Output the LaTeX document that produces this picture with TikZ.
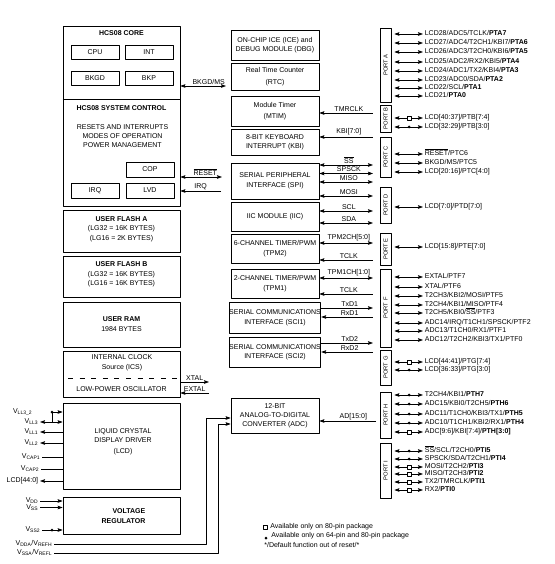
\documentclass[tikz,border=0pt]{standalone}
\usepackage{fontspec}
\setmainfont{Liberation Sans}
\usetikzlibrary{arrows.meta}
\newcommand{\ovl}[1]{$\overline{\mbox{#1}}$}
\begin{document}
\begin{tikzpicture}[x=1pt,y=-1pt,line join=round,line width=.7pt,>={Stealth[length=5pt,width=3.6pt,inset=.8pt]}]
	\tikzset{every node/.style={font=\fontsize{7}{9}\selectfont,inner sep=0pt},
		ttl/.style={font=\fontsize{7}{9}\selectfont\bfseries},
		lbox/.style={draw,minimum width=117},
		sub/.style={draw,minimum width=48,minimum height=14},
		mod/.style={draw,align=center,minimum width=88},
		port/.style={draw,minimum width=11,font=\fontsize{5.8}{7}\selectfont},
		pin/.style={anchor=west,inner sep=1.5pt,text height=5pt,text depth=1.5pt},
		vlab/.style={anchor=east,inner sep=1.5pt,text height=5pt,text depth=2pt},
		sig/.style={pos=.55,above=1.2pt}}
	\useasboundingbox (0,0) rectangle (554,564);
	\node[lbox,minimum height=180] (ctl) at (121.5,116) {};
	\coordinate (dv) at (0,99);
	\draw (ctl.west |- dv) -- (ctl.east |- dv);
	\node[ttl] (core) at (121.5,33.5) {HCS08 CORE};
	\node[sub] (cpu) at (95,52) {CPU};
	\node[sub] (int) at (149,52) {INT};
	\node[sub] (bkgd) at (95,78) {BKGD};
	\node[sub] (bkp) at (149,78) {BKP};
	\node[ttl] (sys) at (121.5,108) {HCS08 SYSTEM CONTROL};
	\node[align=center] (rim) at (122.5,136.5) {RESETS AND INTERRUPTS\\MODES OF OPERATION\\POWER MANAGEMENT};
	\node[sub,minimum height=15] (cop) at (150,169.5) {COP};
	\node[sub,minimum height=15] (irqb) at (95,190.5) {IRQ};
	\node[sub,minimum height=15] (lvd) at (150,190.5) {LVD};
	\node[lbox,minimum height=42] (fla) at (121.5,231) {};
	\node[align=center] (flat) at (121.5,229) {\textbf{USER FLASH A}\\[.5pt](LG32 = 16K BYTES)\\[.5pt](LG16 = 2K BYTES)};
	\node[lbox,minimum height=41] (flb) at (121.5,276.5) {};
	\node[align=center] (flbt) at (121.5,274.5) {\textbf{USER FLASH B}\\[.5pt](LG32 = 16K BYTES)\\[.5pt](LG16 = 16K BYTES)};
	\node[lbox,minimum height=45] (ram) at (121.5,324.5) {};
	\node[align=center] (ramt) at (121.5,324) {\textbf{USER RAM}\\[1.5pt]1984 BYTES};
	\node[lbox,minimum height=46] (ics) at (121.5,374) {};
	\node[align=center] (icst) at (122,363) {INTERNAL CLOCK\\[1pt]Source (ICS)};
	\coordinate (dl) at (68,378);
	\coordinate (dr) at (179,378);
	\draw[dash pattern=on 5pt off 6.6pt] (dl) -- (dr);
	\node (osc) at (121.5,389) {LOW-POWER OSCILLATOR};
	\node[lbox,minimum height=86] (lcd) at (121.5,446) {};
	\node[align=center] (lcdt) at (123,442) {LIQUID CRYSTAL\\DISPLAY DRIVER\\[1.5pt](LCD)};
	\node[lbox,minimum height=37] (vreg) at (121.5,515.5) {};
	\node[align=right,font=\fontsize{7}{10}\selectfont\bfseries] (vregt) at (123.5,516) {VOLTAGE\\REGULATOR};
	\coordinate (bk) at (226,86);
	\draw[<->] (ctl.east |- bk) -- (bk) node[pos=.62,above=1.2pt] (bkl) {BKGD/MS};
	\coordinate (rs) at (222,177);
	\draw[<->] (ctl.east |- rs) -- (rs) node[pos=.6,above=1.2pt] (rsl) {\ovl{RESET}};
	\coordinate (iq) at (221,191);
	\draw[->] (iq) -- (ctl.east |- iq) node[midway,above=1.2pt] (iql) {IRQ};
	\coordinate (xt) at (209,382);
	\draw[->] (ics.east |- xt) -- (xt) node[midway,above=1.2pt] (xtl) {XTAL};
	\coordinate (ex) at (209,393);
	\draw[->] (ex) -- (ics.east |- ex) node[midway,above=1.2pt] (exl) {EXTAL};
	\node[vlab] (vll32) at (34,412) {V\textsubscript{LL3\_2}};
	\node[vlab] (vll3) at (40,422) {V\textsubscript{LL3}};
	\node[vlab] (vll1) at (40,432) {V\textsubscript{LL1}};
	\node[vlab] (vll2) at (40,443) {V\textsubscript{LL2}};
	\node[vlab] (vcp1) at (42,457) {V\textsubscript{CAP1}};
	\node[vlab] (vcp2) at (41,469) {V\textsubscript{CAP2}};
	\node[vlab] (lcdo) at (40,481) {LCD[44:0]};
	\coordinate (dt1) at (52,412);
	\fill (dt1) circle (1.5);
	\draw[->] (dt1) -- (lcd.west |- dt1);
	\draw (dt1) -- (dt1 |- vll3);
	\draw[<->] (vll3) -- (lcd.west |- vll3);
	\draw[<-] (vll1) -- (lcd.west |- vll1);
	\draw[<-] (vll2) -- (lcd.west |- vll2);
	\draw (vcp1) -- (lcd.west |- vcp1);
	\draw (vcp2) -- (lcd.west |- vcp2);
	\draw[<-] (lcdo) -- (lcd.west |- lcdo);
	\node[vlab] (vdd) at (40,501) {V\textsubscript{DD}};
	\node[vlab] (vss) at (40,507.5) {V\textsubscript{SS}};
	\node[vlab] (vss2) at (42,530) {V\textsubscript{SS2}};
	\draw[->] (vdd) -- (vreg.west |- vdd);
	\draw[->] (vss) -- (vreg.west |- vss);
	\coordinate (dt2) at (52,530);
	\fill (dt2) circle (1.5);
	\draw[->] (vss2) -- (vreg.west |- vss2);
	\node[mod,minimum height=30] (ice) at (275,45) {ON-CHIP ICE (ICE) and\\DEBUG MODULE (DBG)};
	\node[mod,minimum height=27] (rtc) at (275,77) {Real Time Counter\\[3pt](RTC)};
	\node[mod,minimum height=30] (mtim) at (275,111) {Module Timer\\[2pt](MTIM)};
	\node[mod,minimum height=26] (kbi) at (275,142) {8-BIT KEYBOARD\\INTERRUPT (KBI)};
	\node[mod,minimum height=36] (spi) at (275,181) {SERIAL PERIPHERAL\\[1pt]INTERFACE (SPI)};
	\node[mod,minimum height=29] (iic) at (275,216.5) {IIC MODULE (IIC)};
	\node[mod,minimum height=29] (tpm2) at (275,248.5) {6-CHANNEL TIMER/PWM\\[1pt](TPM2)};
	\node[mod,minimum height=29] (tpm1) at (275,283.5) {2-CHANNEL TIMER/PWM\\[1pt](TPM1)};
	\node[mod,minimum height=31] (sci1) at (275,317.5) {SERIAL COMMUNICATIONS\\[1pt]INTERFACE (SCI1)};
	\node[mod,minimum height=30] (sci2) at (275,352) {SERIAL COMMUNICATIONS\\INTERFACE (SCI2)};
	\node[mod,minimum height=35] (adc) at (275,415.5) {12-BIT\\ANALOG-TO-DIGITAL\\CONVERTER (ADC)};
	\node[vlab] (vdda) at (54,544) {V\textsubscript{DDA}/V\textsubscript{REFH}};
	\node[vlab] (vssa) at (54,553) {V\textsubscript{SSA}/V\textsubscript{REFL}};
	\coordinate (ah) at (206,418);
	\coordinate (al) at (218,424);
	\draw[->] (vdda) -| (ah) -- (adc.west |- ah);
	\draw[->] (vssa) -| (al) -- (adc.west |- al);
	\foreach \n/\m/\y/\a/\t in {tm/mtim/113/<-/TMRCLK, kb/kbi/137/<-/{KBI[7:0]}, ss/spi/165/<->/{\ovl{SS}}, sk/spi/173.5/<->/SPSCK, mi/spi/182/<->/MISO, mo/spi/196/<->/MOSI, scl/iic/211/<->/SCL, sda/iic/223/<->/SDA, tt/tpm2/243/<->/{TPM2CH[5:0]}, ct/tpm2/260/<-/TCLK, to/tpm1/278/<->/{TPM1CH[1:0]}, co/tpm1/294/<-/TCLK, txa/sci1/308/->/TxD1, rxa/sci1/317/<-/RxD1, txb/sci2/343/->/TxD2, rxb/sci2/352/<-/RxD2}
	{\coordinate (\n) at (373,\y);
	 \draw[\a] (\m.east |- \n) -- (\n) node[sig] (l\n) {\t};}
	\node[port,minimum height=74] (pA) at (385.5,65) {\rotatebox{90}{PORT A}};
	\node[port,minimum height=27] (pB) at (385.5,118.5) {\rotatebox{90}{PORT B}};
	\node[port,minimum height=40] (pC) at (385.5,157) {\rotatebox{90}{PORT C}};
	\node[port,minimum height=36] (pD) at (385.5,205) {\rotatebox{90}{PORT D}};
	\node[port,minimum height=32] (pE) at (385.5,249) {\rotatebox{90}{PORT E}};
	\node[port,minimum height=78] (pF) at (385.5,308) {\rotatebox{90}{PORT F}};
	\node[port,minimum height=35] (pG) at (385.5,367.5) {\rotatebox{90}{PORT G}};
	\node[port,minimum height=46] (pH) at (385.5,415) {\rotatebox{90}{PORT H}};
	\node[port,minimum height=55] (pI) at (385.5,470.5) {\rotatebox{90}{PORT I}};
	\coordinate (ad) at (376,421);
	\draw[->] (ad) -- (adc.east |- ad) node[pos=.4,above=1.2pt] (adl) {AD[15:0]};
	\foreach \p/\y/\t in {pA/34/{LCD28/ADC5/TCLK/\textbf{PTA7}}, pA/43/{LCD27/ADC4/T2CH1/KBI7/\textbf{PTA6}}, pA/52/{LCD26/ADC3/T2CH0/KBI6/\textbf{PTA5}}, pA/62/{LCD25/ADC2/RX2/KBI5/\textbf{PTA4}}, pA/71/{LCD24/ADC1/TX2/KBI4/\textbf{PTA3}}, pA/80/{LCD23/ADC0/SDA/\textbf{PTA2}}, pA/88/{LCD22/SCL/\textbf{PTA1}}, pA/96/{LCD21/\textbf{PTA0}},
		pB/118/{LCD[40:37]/PTB[7:4]}, pB/127/{LCD[32:29]/PTB[3:0]},
		pC/154/{\ovl{RESET}/PTC6}, pC/163/{BKGD/MS/PTC5}, pC/172/{LCD[20:16]/PTC[4:0]},
		pD/207/{LCD[7:0]/PTD[7:0]}, pE/247/{LCD[15:8]/PTE[7:0]},
		pF/277/{EXTAL/PTF7}, pF/287/{XTAL/PTF6}, pF/296/{T2CH3/KBI2/MOSI/PTF5}, pF/305/{T2CH4/KBI1/MISO/PTF4}, pF/313/{T2CH5/KBI0/\ovl{SS}/PTF3}, pF/323/{ADC14/IRQ/T1CH1/SPSCK/PTF2}, pF/331/{ADC13/T1CH0/RX1/PTF1}, pF/340/{ADC12/T2CH2/KBI3/TX1/PTF0},
		pG/362/{LCD[44:41]/PTG[7:4]}, pG/370/{LCD[36:33]/PTG[3:0]},
		pH/395/{T2CH4/KBI1/\textbf{PTH7}}, pH/404/{ADC15/KBI0/T2CH5/\textbf{PTH6}}, pH/414/{ADC11/T1CH0/KBI3/TX1/\textbf{PTH5}}, pH/423/{ADC10/T1CH1/KBI2/RX1/\textbf{PTH4}}, pH/432/{ADC[9:6]/KBI[7:4]/\textbf{PTH[3:0]}},
		pI/451/{\ovl{SS}/SCL/T2CH0/\textbf{PTI5}}, pI/459/{SPSCK/SDA/T2CH1/\textbf{PTI4}}, pI/467/{MOSI/T2CH2/\textbf{PTI3}}, pI/474/{MISO/T2CH3/\textbf{PTI2}}, pI/482/{TX2/TMRCLK/\textbf{PTI1}}, pI/490/{RX2/\textbf{PTI0}}}
	{\node[pin] (n\y) at (423,\y) {\t};
	 \draw[<->,shorten <=3pt] (\p.east |- n\y) -- (n\y);}
	\foreach \y in {118,362,432,467,474,482,490} \draw[fill=white,line width=.5pt] (407,\y-2) rectangle ++(4,4);
	\foreach \y in {127,370,395,404,414,423,451,459} \fill (409,\y) circle (1.5);
	\draw[fill=white,line width=.5pt] (263,525) rectangle ++(4,4.5);
	\node[anchor=west] (lg1) at (270,527) {Available only on 80-pin package};
	\fill (266,538) circle (1.5);
	\node[anchor=west] (lg2) at (271,535.5) {Available only on 64-pin and 80-pin package};
	\node[anchor=west] (lg3) at (264,544.5) {*/Default function out of reset/*};
\end{tikzpicture}
\end{document}
